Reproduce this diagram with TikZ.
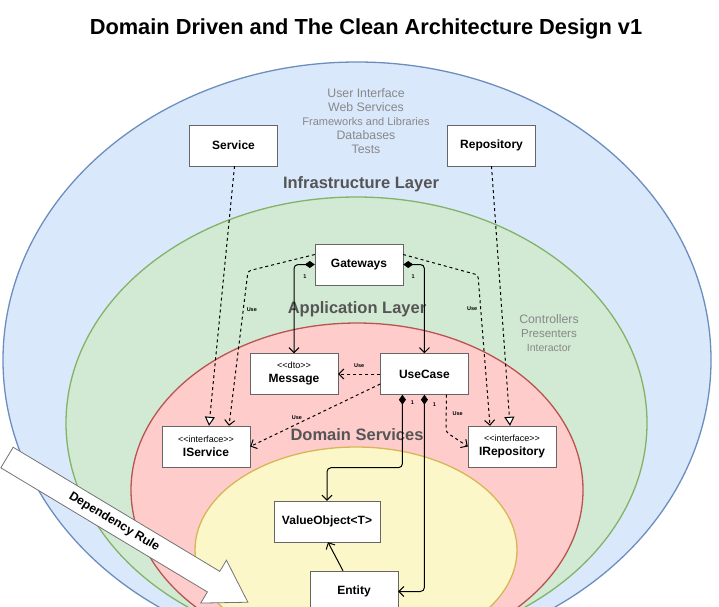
\documentclass[tikz,border=0pt]{standalone}
\usepackage{fontspec}
\setmainfont{Liberation Sans}
\usetikzlibrary{arrows.meta,positioning,shapes}

\definecolor{infraFill}{HTML}{DAE8FC}
\definecolor{infraLine}{HTML}{6C8EBF}
\definecolor{appFill}{HTML}{D2EAD3}
\definecolor{appLine}{HTML}{82B366}
\definecolor{domFill}{HTML}{FFCCCC}
\definecolor{domLine}{HTML}{B85450}
\definecolor{coreFill}{HTML}{FCF7C8}
\definecolor{coreLine}{HTML}{D6B656}
\definecolor{layerText}{HTML}{555555}
\definecolor{infoText}{HTML}{888888}
\newcommand{\stereotype}[1]{{\mdseries\fontsize{9}{10}\selectfont <{}<#1>{}>}}

\begin{document}
\begin{tikzpicture}[x=1pt,y=-1pt]
            \tikzstyle{box}=[rectangle, draw=black!60, fill=white, minimum width=88pt, minimum height=41pt, align=center, inner sep=1pt, font=\bfseries\fontsize{12}{14}\selectfont]
            \tikzstyle{layer}=[font=\bfseries\fontsize{16.5}{19}\selectfont, text=layerText]
            \tikzstyle{info}=[align=center, text=infoText, font=\fontsize{12.3}{14}\selectfont]
            \tikzstyle{lbl}=[inner sep=0pt, font=\bfseries\fontsize{5.5}{6}\selectfont]
            \tikzstyle{use}=[line width=1pt, dashed, rounded corners=3pt, -{Straight Barb[length=5pt,width=10pt]}]
            \tikzstyle{realize}=[line width=1pt, dashed, -{Triangle[length=9pt,width=10pt,fill=white]}]
            \tikzstyle{comp}=[line width=1pt, rounded corners=4pt, {Diamond[length=10pt,width=7pt]}-{Straight Barb[length=5pt,width=10pt]}]
            \tikzstyle{dep}=[line width=1pt, -{Straight Barb[length=5pt,width=10pt]}]

            \useasboundingbox (0,0) rectangle (719,606);
            \clip (0,0) rectangle (719,606);
            \fill[white] (0,0) rectangle (719,606);

            \draw[draw=infraLine, fill=infraFill, line width=1.3pt] (357,360) ellipse [x radius=354, y radius=298];
            \draw[draw=appLine, fill=appFill, line width=1.3pt] (356.5,423) ellipse [x radius=290.5, y radius=226];
            \draw[draw=domLine, fill=domFill, line width=1.3pt] (357,490) ellipse [x radius=226, y radius=167];
            \draw[draw=coreLine, fill=coreFill, line width=1.3pt] (356,550) ellipse [x radius=161, y radius=103];

            \node[font=\bfseries\fontsize{21.8}{26}\selectfont] (title) at (366,29) {Domain Driven and The Clean Architecture Design v1};

            \node[info] (infratext) at (366,121) {User Interface\\Web Services\\{\fontsize{11}{13}\selectfont Frameworks and Libraries}\\Databases\\Tests};
            \node[info] (apptext) at (549,333) {Controllers\\{\fontsize{11.5}{13}\selectfont Presenters}\\{\fontsize{10.5}{13}\selectfont Interactor}};
            \node[layer] (infra) at (361,184) {Infrastructure Layer};
            \node[layer] (app) at (357,309) {Application Layer};
            \node[layer] (dom) at (357,435) {Domain Services};

            \node[box] (service)  at (233.5,145.5) {Service};
            \node[box] (repo)     at (491.5,145.5) {Repository};
            \node[box] (gate)     at (359,264.5)   {Gateways};
            \node[box] (msg)      at (294,374)     {\stereotype{dto}\\Message};
            \node[box] (usecase)  [right=42pt of msg] {UseCase};
            \node[box] (iserv)    at (206,446.5)   {\stereotype{interface}\\IService};
            \node[box] (irepo)    at (512,446.5)   {\stereotype{interface}\\IRepository};
            \node[box, minimum width=106pt] (valobj) at (327,521.5) {ValueObject<T>};
            \node[box] (entity)   at (354,591.5)   {Entity};

            \draw[realize] ([xshift=1pt]service.south) -- ([xshift=3pt]iserv.north);
            \draw[realize] (repo.south) -- ([xshift=-2pt]irepo.north);
            \draw[use] ([yshift=10pt]gate.west) -- (248,271) -- node[lbl, pos=0.25, right=3pt] {Use} ([xshift=23pt]iserv.north);
            \draw[use] ([yshift=10pt]gate.east) -- (478,275) -- node[lbl, pos=0.22, left=3pt] {Use} ([xshift=-22pt]irepo.north);

            \draw[comp] (gate.west) node[lbl, xshift=-10pt, yshift=-12.5pt] {1} -| (msg.north);
            \draw[comp] (gate.east) node[lbl, xshift=10pt, yshift=-12.5pt] {1} -| (usecase.north);

            \draw[use] (usecase.west) -- node[lbl, above=6pt] {Use} (msg.east);
            \draw[use] ([yshift=-10pt]usecase.west) -- node[lbl, pos=0.64, above=4pt] {Use} (iserv.east);
            \draw[use] ([xshift=22pt]usecase.south) -- node[lbl, pos=0.5, right=6pt] {Use} (446,432) -- (irepo.west);

            \draw[comp] ([xshift=-22pt]usecase.south) node[lbl, xshift=10pt, yshift=-8pt] {1} -- ++(0,73) -| (valobj.north);
            \draw[comp] (usecase.south) node[lbl, xshift=10pt, yshift=-10pt] {1} |- (entity.east);
            \draw[dep] ([xshift=-11pt]entity.north) -- ([xshift=1pt]valobj.south);

            \begin{scope}[shift={(7,457.5)}, rotate=-31]
                \draw[draw=black!55, fill=white, line width=0.8pt] (0,-12) -- (241,-12) -- (241,-25) -- (281,0) -- (241,25) -- (241,12) -- (0,12) -- cycle;
                \node[rotate=-31, font=\bfseries\fontsize{12.3}{14}\selectfont] (deprule) at (125,0) {Dependency Rule};
            \end{scope}
        \end{tikzpicture}
\end{document}
